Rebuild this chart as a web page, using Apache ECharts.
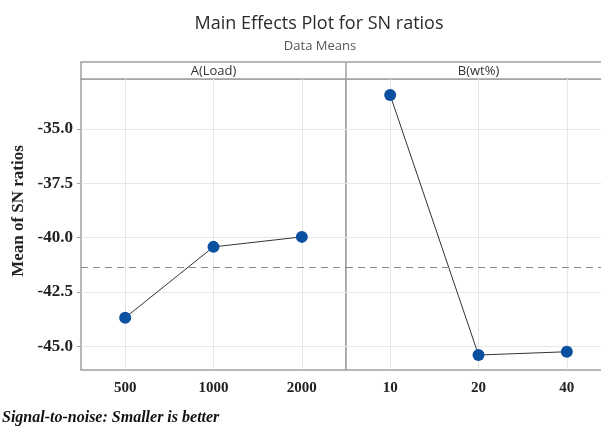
<!DOCTYPE html>
<html>
<head>
<meta charset="UTF-8">
<title>Main Effects Plot for SN ratios</title>
<script src="https://cdn.jsdelivr.net/npm/echarts@6/dist/echarts.min.js"></script>
<style>
    html, body { margin: 0; padding: 0; background: #fff; }
    #chart { width: 601px; height: 426px; }
</style>
</head>
<body>
<div id="chart"></div>
<script>
    // factor levels and SN ratio means
    const loadLevels = ['500', '1000', '2000'];
    const loadSN = [-43.69, -40.43, -39.97];
    const wtLevels = ['10', '20', '40'];
    const wtSN = [-33.44, -45.41, -45.26];
    const meanSN = -41.37;
    const yTicks = [-45, -42.5, -40, -37.5, -35];

    const frameColor = '#a0a0a0';
    const gridColor = '#e6e6e6';
    const serif = 'Liberation Serif';

    const chart = echarts.init(document.getElementById('chart'));

    function xAxisFor(gridIndex, levels) {
        return {
            type: 'category', gridIndex: gridIndex, data: levels,
            axisLine: { show: false },
            axisTick: { show: false, alignWithLabel: true },
            splitLine: { show: true, alignWithLabel: true, lineStyle: { color: gridColor, width: 1 } },
            axisLabel: { color: '#222', fontFamily: serif, fontWeight: 'bold', fontSize: 15, margin: 11 }
        };
    }

    function yAxisFor(gridIndex, showLabels) {
        return {
            type: 'value', gridIndex: gridIndex, min: -46.1, max: -32.7,
            axisLine: { show: false },
            axisTick: { show: showLabels, length: 4, customValues: yTicks, lineStyle: { color: frameColor } },
            splitLine: { show: true, lineStyle: { color: gridColor, width: 1 } },
            axisLabel: {
                show: showLabels, customValues: yTicks, margin: 8,
                color: '#222', fontFamily: serif, fontWeight: 'bold', fontSize: 17,
                formatter: v => v.toFixed(1)
            }
        };
    }

    function effectSeries(index, values) {
        return {
            type: 'line', xAxisIndex: index, yAxisIndex: index, data: values,
            symbol: 'circle', symbolSize: 12,
            lineStyle: { color: '#333', width: 1 },
            itemStyle: { color: '#0a50a0' },
            emphasis: { disabled: true },
            markLine: {
                silent: true, symbol: 'none', label: { show: false },
                lineStyle: { color: '#8a8a8a', type: [7, 5], width: 1 },
                data: [{ yAxis: meanSN }]
            },
            z: 3
        };
    }

    const option = {
        animation: false,
        backgroundColor: '#fff',
        title: [
            {
                text: 'Main Effects Plot for SN ratios', left: 314, top: 10, textAlign: 'center',
                textStyle: { fontFamily: 'Open Sans', fontWeight: 'normal', fontSize: 18, color: '#2a2a2a' }
            },
            {
                text: 'Data Means', left: 315, top: 35, textAlign: 'center',
                textStyle: { fontFamily: 'Open Sans', fontWeight: 'normal', fontSize: 13, color: '#555' }
            }
        ],
        grid: [
            { left: 81, top: 79, width: 265, height: 291, outerBoundsMode: 'none', show: true, borderColor: frameColor, borderWidth: 1.5, backgroundColor: '#fff' },
            { left: 346, top: 79, width: 265, height: 291, outerBoundsMode: 'none', show: true, borderColor: frameColor, borderWidth: 1.5, backgroundColor: '#fff' }
        ],
        xAxis: [xAxisFor(0, loadLevels), xAxisFor(1, wtLevels)],
        yAxis: [yAxisFor(0, true), yAxisFor(1, false)],
        series: [effectSeries(0, loadSN), effectSeries(1, wtSN)],
        graphic: [
            { type: 'rect', shape: { x: 81, y: 62, width: 530, height: 17 }, style: { fill: '#fff', stroke: frameColor, lineWidth: 1.5 } },
            { type: 'line', shape: { x1: 346, y1: 62, x2: 346, y2: 79 }, style: { stroke: frameColor, lineWidth: 1.5 } },
            { type: 'text', x: 213.5, y: 71, style: { text: 'A(Load)', fill: '#333', font: '13px "Open Sans"', align: 'center', verticalAlign: 'middle' } },
            { type: 'text', x: 478.5, y: 71, style: { text: 'B(wt%)', fill: '#333', font: '13px "Open Sans"', align: 'center', verticalAlign: 'middle' } },
            { type: 'text', x: 19, y: 211, rotation: Math.PI / 2, style: { text: 'Mean of SN ratios', fill: '#222', font: 'bold 17px "Liberation Serif"', align: 'center', verticalAlign: 'middle' } },
            { type: 'text', x: 2, y: 418, style: { text: 'Signal-to-noise: Smaller is better', fill: '#111', font: 'italic bold 16px "Liberation Serif"', verticalAlign: 'middle' } }
        ]
    };

    chart.setOption(option);
    window.onresize = function () { chart.resize(); };
</script>
</body>
</html>
